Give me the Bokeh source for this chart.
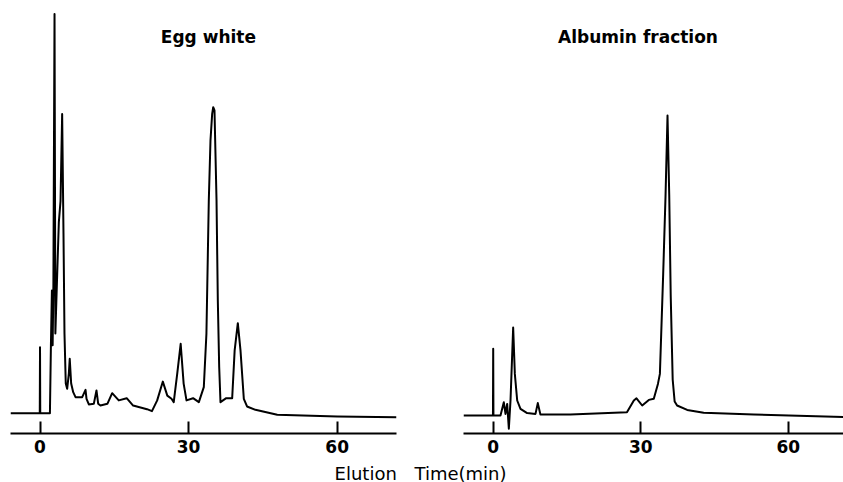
from bokeh.plotting import figure
from bokeh.layouts import row, column
from bokeh.models import Range1d, Label, FixedTicker
from bokeh.core.properties import value
from bokeh.embed import file_html
from bokeh.resources import INLINE

# ---- data: Egg white (elution time in min, detector signal, relative units) ----
egg_time = [-5.96, -0.05, 0.0, 0.05, 2.0, 2.2, 2.4, 2.55, 2.7, 2.93, 3.1, 3.47, 3.8, 4.14, 4.47,
            4.74, 4.94, 5.2, 5.48, 5.82, 6.0, 6.29, 6.7, 7.17, 8.52, 9.19, 9.39, 9.86, 10.86, 11.4,
            11.75, 12.2, 13.6, 14.57, 15.9, 17.5, 18.8, 21.6, 22.6, 23.66, 24.8, 25.7, 26.55, 27.0,
            27.7, 28.4, 29.0, 29.58, 30.9, 32.07, 33.07, 33.6, 34.08, 34.42, 34.76, 34.97, 35.23,
            35.64, 35.9, 36.18, 36.44, 37.6, 38.8, 39.3, 39.94, 40.48, 41.15, 41.8, 43.5, 47.9, 60.0, 71.98]
egg_signal = [0.0, 0.0, 0.165, 0.0, 0.0, 0.169, 0.307, 0.17, 0.32, 0.998, 0.199, 0.349, 0.4775, 0.53, 0.748,
              0.449, 0.199, 0.074, 0.061, 0.099, 0.136, 0.074, 0.0525, 0.04, 0.04, 0.0584, 0.036, 0.0218, 0.0234, 0.0568,
              0.0234, 0.019, 0.0234, 0.05, 0.032, 0.0375, 0.019, 0.01, 0.005, 0.032, 0.079, 0.044, 0.036, 0.0275,
              0.0985, 0.1735, 0.074, 0.032, 0.0375, 0.0275, 0.065, 0.1985, 0.532, 0.682, 0.7485, 0.765, 0.757,
              0.532, 0.282, 0.115, 0.0275, 0.0375, 0.0375, 0.157, 0.225, 0.157, 0.036, 0.0168, 0.0084, -0.004, -0.008, -0.01]

# ---- data: Albumin fraction ----
alb_time = [-6.04, -0.05, 0.0, 0.05, 1.48, 2.16, 2.5, 2.84, 3.18, 3.52, 4.06, 4.4, 4.88, 5.55, 6.9,
            8.6, 9.07, 9.6, 15.7, 27.2, 28.6, 29.14, 30.3, 31.65, 32.66, 33.5, 33.9, 34.57, 35.04, 35.45,
            35.8, 36.1, 36.5, 36.9, 37.4, 39.45, 42.8, 53.0, 71.24]
alb_signal = [0.0, 0.0, 0.167, 0.0, 0.0, 0.033, 0.004, 0.029, -0.033, 0.0375, 0.22, 0.104, 0.0375, 0.0167, 0.006,
              0.004, 0.031, 0.0025, 0.0025, 0.008, 0.0375, 0.043, 0.025, 0.039, 0.042, 0.079, 0.104, 0.354, 0.546, 0.75,
              0.55, 0.3, 0.09, 0.035, 0.025, 0.014, 0.007, 0.0025, -0.004]

tick_values = [0, 30, 60]
panel_titles = ["Egg white", "Albumin fraction"]
axis_words = ["Elution", "Time(min)"]

FONT = "DejaVu Sans"


def make_panel(width, border_left, border_right, xr, yr, t, s, title, title_x, title_y):
    p = figure(width=width, height=459, x_range=Range1d(*xr), y_range=Range1d(*yr),
               output_backend="svg", toolbar_location=None, y_axis_location=None,
               min_border_left=border_left, min_border_right=border_right,
               min_border_top=0, min_border_bottom=26)
    p.outline_line_color = None
    p.xgrid.visible = False
    p.ygrid.visible = False
    p.background_fill_color = "white"
    p.border_fill_color = "white"
    ax = p.xaxis[0]
    ax.ticker = FixedTicker(ticks=tick_values)
    ax.major_tick_in = 12
    ax.major_tick_out = 0
    ax.minor_tick_line_color = None
    ax.axis_line_width = 2
    ax.axis_line_color = "black"
    ax.major_tick_line_width = 2
    ax.major_tick_line_color = "black"
    ax.major_label_standoff = 6
    ax.major_label_text_font = FONT
    ax.major_label_text_font_style = "bold"
    ax.major_label_text_font_size = "17px"
    ax.major_label_text_color = "black"
    p.line(t, s, line_color="black", line_width=2, line_join="round")
    p.add_layout(Label(x=title_x, y=title_y, text=title, text_font=FONT, text_font_size="17px",
                       text_font_style="bold", text_align="center", text_baseline="alphabetic",
                       text_color="black"))
    return p


p1 = make_panel(410, 10, 14, (-5.96, 71.98), (-0.0508, 1.0318), egg_time, egg_signal,
                panel_titles[0], 34.0, 0.94)
p2 = make_panel(433, 53, 0, (-6.04, 71.24), (-0.045, 1.0375), alb_time, alb_signal,
                panel_titles[1], 29.45, 0.946)

# shared axis title strip, x in minutes on the left panel's time scale
p3 = figure(width=843, height=23, x_range=Range1d(-7.975, 162.2), y_range=Range1d(0, 23),
            output_backend="svg", toolbar_location=None, x_axis_location=None, y_axis_location=None,
            min_border=0)
p3.outline_line_color = None
p3.xgrid.visible = False
p3.ygrid.visible = False
p3.text(x=[59.46, 75.6], y=[9.5, 9.5], text=axis_words, text_font=value(FONT), text_font_size="18px",
        text_align="left", text_baseline="alphabetic", text_color="black")

layout = column(row(p1, p2), p3)
open("out.html", "w").write(file_html(layout, INLINE))
